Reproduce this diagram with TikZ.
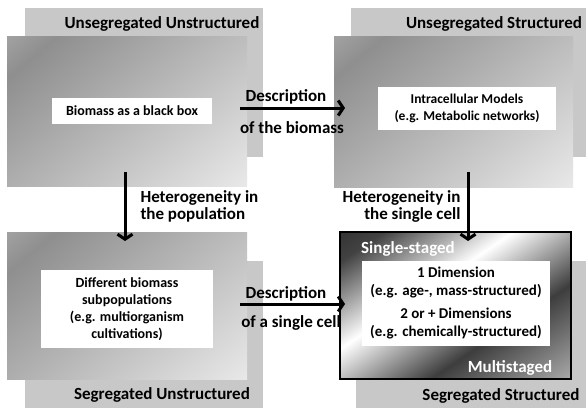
\documentclass[tikz,border=0pt]{standalone}
\usepackage{fontspec}
\setmainfont{Carlito}
\usetikzlibrary{arrows.meta}

\definecolor{backgray}{HTML}{C8C8C8}
% grey panels: dark in the upper left corner, light in the lower right one
\pgfdeclarehorizontalshading{panel}{100bp}{color(0bp)=(black!37); color(15bp)=(black!37);
  color(23bp)=(black!44); color(85bp)=(black!9); color(100bp)=(black!9)}
% metallic panel of the segregated structured models
\pgfdeclarehorizontalshading{metal}{100bp}{color(0bp)=(black!80); color(15bp)=(black!80);
  color(22bp)=(black!74); color(42bp)=(white); color(63bp)=(black!76);
  color(85bp)=(black!33); color(100bp)=(black!33)}

\tikzset{
  panelbox/.style={shading=panel, shading angle=-50, inner sep=0pt, outer sep=0pt, anchor=south west},
  metalbox/.style={shading=metal, shading angle=-56, draw=black, line width=1.6pt, inner sep=0pt, outer sep=0pt, anchor=south west},
  labelbox/.style={fill=white, inner sep=0pt, align=center},
  title/.style={font=\bfseries\fontsize{17}{17}\selectfont},
  flowtext/.style={font=\bfseries\fontsize{17}{17}\selectfont},
  flow/.style={line width=3pt, -{Straight Barb[length=5pt, width=15pt]}}
}

\begin{document}
\begin{tikzpicture}[x=1pt, y=1pt]
	\fill[white] (0,0) rectangle (586,408); % weisser Rand
	
	% Hintergrundkarten
	\fill[backgray] (25,251) rectangle (263,400);
	\fill[backgray] (351,251) rectangle (586,400);
	\fill[backgray] (25,0) rectangle (263,147);
	\fill[backgray] (356,0) rectangle (586,147);
	
	\node[title] (uut) at (162,384) {Unsegregated Unstructured};
	\node[title] (ust) at (494,384) {Unsegregated Structured};
	\node[title] (sut) at (162,13) {Segregated Unstructured};
	\node[title] (sst) at (501,12) {Segregated Structured};
	
	% Vordergrundkarten
	\node[panelbox, minimum width=240pt, minimum height=149pt] (uu) at (7,222) {};
	\node[panelbox, minimum width=239pt, minimum height=150pt] (us) at (334,221) {};
	\node[panelbox, minimum width=240pt, minimum height=147pt] (su) at (7,29) {};
	\node[metalbox, minimum width=231pt, minimum height=147pt] (ss) at (340,29) {};
	
	\node[labelbox, minimum width=160pt, minimum height=26pt, font=\bfseries\fontsize{14}{17}\selectfont]
		(uul) at (132,297) {Biomass as a black box};
	\node[labelbox, minimum width=178pt, minimum height=43pt, font=\bfseries\fontsize{13.5}{17}\selectfont]
		(usl) at (467,299.5) {Intracellular Models\\(e.g. Metabolic networks)};
	\node[labelbox, minimum width=172pt, minimum height=78pt, font=\bfseries\fontsize{14}{17}\selectfont]
		(sul) at (127,99) {Different biomass\\subpopulations\\(e.g. multiorganism\\cultivations)};
	\node[labelbox, minimum width=188pt, minimum height=85pt, font=\bfseries\fontsize{15}{18}\selectfont]
		(ssl) at (456,104.5) {1 Dimension\\(e.g. age-, mass-structured)\\[5pt]2 or + Dimensions\\(e.g. chemically-structured)};
	
	\node[title, white] (single) at (408,159) {Single-staged};
	\node[title, white] (multi) at (510,40) {Multistaged};
	
	% Pfeile
	\draw[flow] ([xshift=-7pt, yshift=3.5pt]uu.east) -- ([xshift=11pt, yshift=4pt]us.west);
	\draw[flow] ([xshift=-7pt, yshift=1.5pt]su.east) -- ([xshift=5pt, yshift=1.5pt]ss.west);
	\draw[flow] ([xshift=-2pt, yshift=14pt]uu.south) -- ([xshift=-2pt, yshift=-9pt]su.north);
	\draw[flow] ([xshift=14.5pt, yshift=15pt]us.south) -- ([xshift=12.5pt, yshift=-9pt]ss.north);
	
	\node[flowtext] (d1) at (286,311) {Description};
	\node[flowtext] (d1b) at (292,280) {of the biomass};
	\node[flowtext] (d2) at (286,114) {Description};
	\node[flowtext] (d2b) at (291,85) {of a single cell};
	\node[flowtext, anchor=west, align=left] (h1) at (137,201.5) {Heterogeneity in\\the population};
	\node[flowtext, anchor=east, align=right] (h2) at (464,201.5) {Heterogeneity in\\the single cell};
	
	%\draw[help lines, step=50] (0,0) grid (586,408);
\end{tikzpicture}
\end{document}
